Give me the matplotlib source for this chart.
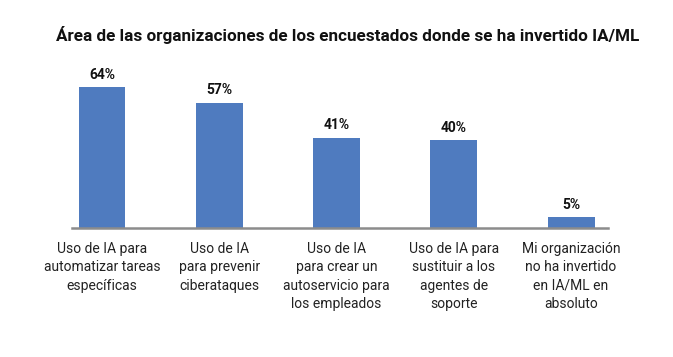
import numpy as np
import matplotlib.pyplot as plt

plt.rcParams['font.family'] = ['Roboto', 'DejaVu Sans']

categories = [
    "Uso de IA para\nautomatizar tareas\nespecíficas",
    "Uso de IA\npara prevenir\nciberataques",
    "Uso de IA\npara crear un\nautoservicio para\nlos empleados",
    "Uso de IA para\nsustituir a los\nagentes de\nsoporte",
    "Mi organización\nno ha invertido\nen IA/ML en\nabsoluto",
]
values = [64, 57, 41, 40, 5]
value_labels = ["64%", "57%", "41%", "40%", "5%"]

fig = plt.figure(figsize=(6.73, 3.57), dpi=100)
ax = fig.add_axes([72 / 673, (357 - 228) / 357, 536 / 673, 168 / 357])

x = np.arange(len(values))
bars = ax.bar(x, values, width=0.4, color="#4f7bbf")

for b, lab in zip(bars, value_labels):
    ax.text(b.get_x() + b.get_width() / 2, b.get_height() + 2.5, lab,
            ha="center", va="bottom", fontsize=10, fontweight="bold", color="#111111")

ax.set_xlim(-0.256, 4.315)
ax.set_ylim(0, 76.4)
ax.set_xticks(x)
ax.set_xticklabels(categories, fontsize=10, linespacing=1.4, color="#222222")
ax.tick_params(axis="x", length=0, pad=10)
ax.set_yticks([])
for s in ["top", "right", "left"]:
    ax.spines[s].set_visible(False)
ax.spines["bottom"].set_color("#8c8c8c")
ax.spines["bottom"].set_linewidth(1.8)

fig.text(348 / 673, 1 - 35 / 357, "Área de las organizaciones de los encuestados donde se ha invertido IA/ML",
         ha="center", va="center", fontsize=12.3, fontweight="bold", color="#111111")

fig.savefig("out.png", dpi=100)
